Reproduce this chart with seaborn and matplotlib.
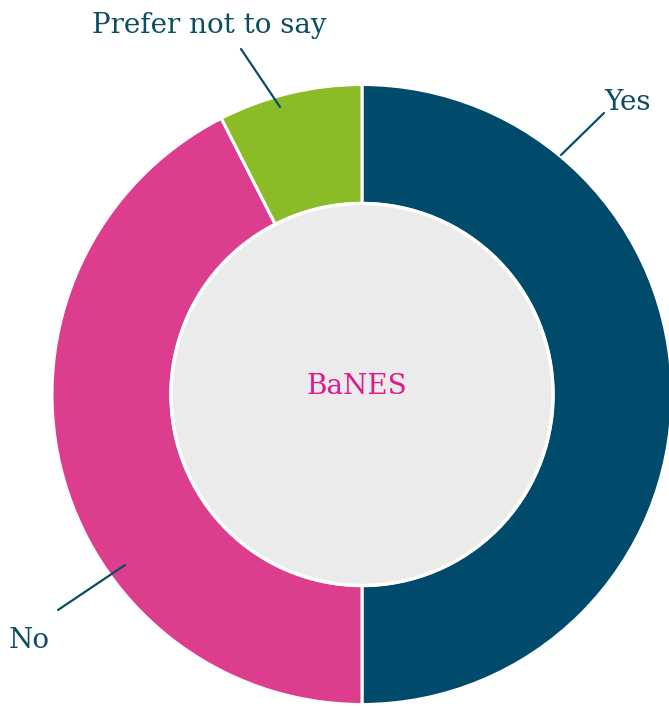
import matplotlib
matplotlib.use("Agg")
import matplotlib.pyplot as plt
import seaborn as sns
from matplotlib.patches import Circle

sns.set_theme(style="white")
plt.rcParams['font.family'] = ['DejaVu Serif', 'DejaVu Sans']

categories = ["Yes", "No", "Prefer not to say"]
values = [20, 17, 3]
colors = ["#004b6b", "#dc3d8d", "#8bbb27"]
center_label = "BaNES"

text_color = "#0b4d63"

fig = plt.figure(figsize=(6.69, 7.06), dpi=100)
ax = fig.add_axes([0, 0, 1, 1])

cx, cy = 362, 311.5
R_out, R_in = 310, 191

ax.pie(values, colors=colors, startangle=90, counterclock=False,
       radius=R_out, center=(cx, cy), frame=True,
       wedgeprops=dict(width=R_out - R_in, edgecolor="white", linewidth=2.2))
ax.set_xlim(0, 669)
ax.set_ylim(0, 706)
ax.axis("off")
ax.add_patch(Circle((cx, cy), R_in, facecolor="#ebebeb", edgecolor="white", linewidth=2.5, zorder=5))

ax.text(cx - 5, 320, center_label, ha="center", va="center", fontsize=20,
        color="#e0188c", zorder=6)

# leader lines and labels
leaders = {
    "Yes": ((561, 551), (604, 593)),
    "No": ((125, 141), (58, 96)),
    "Prefer not to say": ((280, 599), (241, 657)),
}
for name in categories:
    p1, p2 = leaders[name]
    ax.annotate("", xy=p1, xytext=p2,
                arrowprops=dict(arrowstyle="-", color=text_color, lw=1.6,
                                shrinkA=0, shrinkB=0), zorder=7)

ax.text(604, 596, "Yes", ha="left", va="baseline", fontsize=20, color=text_color)
ax.text(209, 673, "Prefer not to say", ha="center", va="baseline", fontsize=20, color=text_color)
ax.text(9, 58, "No", ha="left", va="baseline", fontsize=20, color=text_color)

fig.savefig("out.png", dpi=100)
